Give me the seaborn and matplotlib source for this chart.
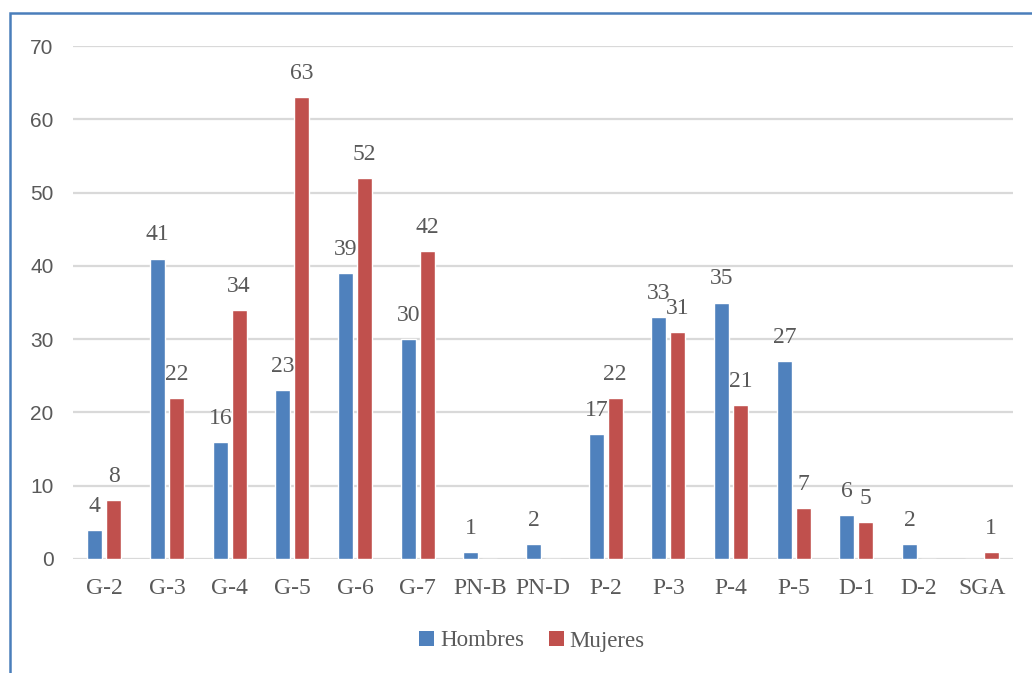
import matplotlib
matplotlib.use("Agg")
import matplotlib.pyplot as plt
from matplotlib.patches import Rectangle, Patch
import seaborn as sns
import pandas as pd

categorias = ["G-2", "G-3", "G-4", "G-5", "G-6", "G-7", "PN-B", "PN-D",
              "P-2", "P-3", "P-4", "P-5", "D-1", "D-2", "SGA"]
hombres = [4, 41, 16, 23, 39, 30, 1, 2, 17, 33, 35, 27, 6, 2, 0]
mujeres = [8, 22, 34, 63, 52, 42, 0, 0, 22, 31, 21, 7, 5, 0, 1]
series = ["Hombres", "Mujeres"]
colores = ["#4F81BD", "#C0504D"]

df = pd.DataFrame({
    "categoria": categorias * 2,
    "valor": hombres + mujeres,
    "sexo": [series[0]] * len(categorias) + [series[1]] * len(categorias),
})

sns.set_theme(style="white")
serif = "Liberation Serif"
sans = "Liberation Sans"
texto = "#595959"

fig = plt.figure(figsize=(10.32, 6.73), dpi=100)
ax = fig.add_axes([73 / 1032, 1 - 559 / 673, 940 / 1032, 513 / 673])

sns.barplot(data=df, x="categoria", y="valor", hue="sexo", order=categorias,
            hue_order=series, palette=colores, width=0.6, gap=0.2,
            saturation=1, legend=False, ax=ax)

# value labels above each non-empty bar
for cont in ax.containers:
    for rect in cont:
        h = rect.get_height()
        if h > 0:
            ax.annotate(f"{h:g}", (rect.get_x() + rect.get_width() / 2, h),
                        xytext=(0, 17), textcoords="offset points",
                        ha="center", va="center", fontsize=17,
                        family=serif, color=texto)

ax.set_ylim(0, 70)
ax.set_xlim(-0.5, len(categorias) - 0.5)
ax.set_yticks(range(0, 71, 10))
ax.yaxis.grid(True, color="#D9D9D9", linewidth=1.6)
ax.set_axisbelow(True)
for s in ax.spines.values():
    s.set_visible(False)
ax.set_xlabel("")
ax.set_ylabel("")
ax.tick_params(axis="both", length=0)
ax.tick_params(axis="x", pad=14)
ax.tick_params(axis="y", pad=14)
for lab in ax.get_xticklabels():
    lab.set_fontfamily(serif)
    lab.set_fontsize(17)
    lab.set_color(texto)
for lab in ax.get_yticklabels():
    lab.set_fontfamily(sans)
    lab.set_fontsize(15)
    lab.set_color(texto)

handles = [Patch(facecolor=c, edgecolor="none") for c in colores]
fig.legend(handles, series, loc="center", bbox_to_anchor=(532 / 1032, 1 - 641 / 673),
           ncol=2, frameon=False, prop={"family": serif, "size": 16.5},
           handlelength=0.65, handleheight=0.65, handletextpad=0.25,
           columnspacing=1.1, labelcolor=texto)

# chart frame
fig.patches.append(Rectangle((9.5 / 1032, -0.1), 1.2, 1.1 - 13.5 / 673,
                             transform=fig.transFigure, fill=False,
                             edgecolor="#4A7EBB", linewidth=1.8, figure=fig))

fig.savefig("out.png", dpi=100)
